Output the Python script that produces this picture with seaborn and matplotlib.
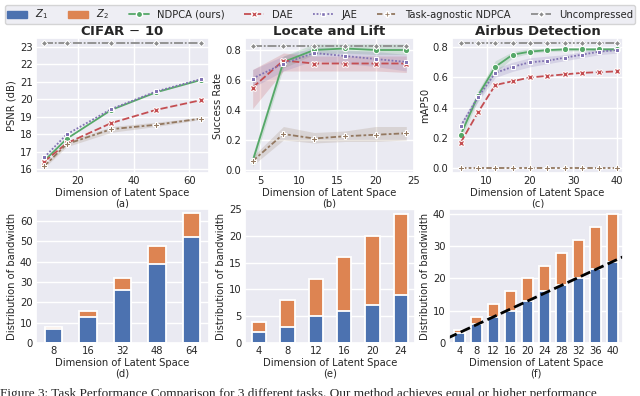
import numpy as np
import pandas as pd
import matplotlib
matplotlib.use("Agg")
import matplotlib.pyplot as plt
import seaborn as sns
from matplotlib.lines import Line2D
from matplotlib.patches import Patch

sns.set_theme(style="darkgrid", palette="deep")
plt.rcParams['font.family'] = ['DejaVu Sans']

metodos = ["NDPCA (ours)", "DAE", "JAE", "Task-agnostic NDPCA", "Uncompressed"]

# CIFAR-10 (PSNR)
cifar_x = [8, 16, 32, 48, 64]
cifar_ndpca = [16.5, 17.75, 19.4, 20.4, 21.1]
cifar_dae = [16.45, 17.5, 18.65, 19.4, 19.95]
cifar_jae = [16.7, 18.0, 19.45, 20.45, 21.15]
cifar_agn = [16.2, 17.45, 18.3, 18.55, 18.9]
cifar_unc = [23.2, 23.2, 23.2, 23.2, 23.2]
cifar_agn_lo = [16.1, 17.3, 18.12, 18.45, 18.85]
cifar_agn_hi = [16.3, 17.6, 18.45, 18.7, 18.97]

# Locate and Lift (success rate)
lift_x = [4, 8, 12, 16, 20, 24]
lift_ndpca = [0.06, 0.72, 0.80, 0.81, 0.80, 0.80]
lift_dae = [0.55, 0.73, 0.71, 0.71, 0.71, 0.71]
lift_jae = [0.61, 0.71, 0.78, 0.76, 0.74, 0.72]
lift_agn = [0.06, 0.24, 0.21, 0.225, 0.235, 0.245]
lift_unc = [0.83, 0.83, 0.83, 0.83, 0.83, 0.83]
lift_ndpca_lo = [0.02, 0.68, 0.77, 0.78, 0.77, 0.77]
lift_ndpca_hi = [0.10, 0.76, 0.84, 0.84, 0.84, 0.84]
lift_dae_lo = [0.41, 0.66, 0.66, 0.66, 0.66, 0.65]
lift_dae_hi = [0.67, 0.78, 0.76, 0.76, 0.76, 0.76]
lift_jae_lo = [0.55, 0.66, 0.73, 0.71, 0.69, 0.66]
lift_jae_hi = [0.67, 0.76, 0.82, 0.80, 0.79, 0.77]
lift_agn_lo = [0.03, 0.20, 0.18, 0.19, 0.19, 0.20]
lift_agn_hi = [0.09, 0.29, 0.25, 0.26, 0.29, 0.29]

# Airbus Detection (mAP50)
air_x = [4, 8, 12, 16, 20, 24, 28, 32, 36, 40]
air_ndpca = [0.22, 0.48, 0.67, 0.75, 0.77, 0.78, 0.785, 0.785, 0.785, 0.785]
air_dae = [0.17, 0.37, 0.55, 0.575, 0.60, 0.61, 0.62, 0.63, 0.635, 0.64]
air_jae = [0.28, 0.47, 0.63, 0.67, 0.70, 0.71, 0.73, 0.75, 0.77, 0.78]
air_agn = [0.0] * 10
air_unc = [0.83] * 10
air_ndpca_lo = [0.19, 0.45, 0.63, 0.73, 0.76, 0.77, 0.775, 0.775, 0.775, 0.775]
air_ndpca_hi = [0.25, 0.51, 0.71, 0.77, 0.79, 0.79, 0.795, 0.795, 0.795, 0.795]
air_jae_lo = [0.26, 0.44, 0.60, 0.64, 0.67, 0.69, 0.71, 0.73, 0.75, 0.76]
air_jae_hi = [0.30, 0.50, 0.66, 0.70, 0.73, 0.74, 0.75, 0.77, 0.79, 0.80]

# distribuicao de banda
bw_d_x = ["8", "16", "32", "48", "64"]
bw_d_z1 = [7, 13, 26, 39, 52]
bw_d_z2 = [1, 3, 6, 9, 12]
bw_e_x = ["4", "8", "12", "16", "20", "24"]
bw_e_z1 = [2, 3, 5, 6, 7, 9]
bw_e_z2 = [2, 5, 7, 10, 13, 15]
bw_f_x = ["4", "8", "12", "16", "20", "24", "28", "32", "36", "40"]
bw_f_z1 = [3, 6, 8, 10, 13, 16, 18, 20, 23, 25]
bw_f_z2 = [1, 2, 4, 6, 7, 8, 10, 12, 13, 15]

pal = sns.color_palette("deep")
cores = {"NDPCA (ours)": pal[2], "DAE": pal[3], "JAE": pal[4],
         "Task-agnostic NDPCA": pal[5], "Uncompressed": pal[7]}
marcadores = {"NDPCA (ours)": "o", "DAE": "X", "JAE": (4, 0, 45),
              "Task-agnostic NDPCA": "P", "Uncompressed": (4, 0, 0)}
tracos = {"NDPCA (ours)": "", "DAE": (4, 1.5), "JAE": (1, 1),
          "Task-agnostic NDPCA": (3, 1.25, 1.5, 1.25), "Uncompressed": (5, 1, 1, 1)}

FS = 7.2


def monta_df(x, series):
    linhas = []
    for nome, ys in zip(metodos, series):
        for xi, yi in zip(x, ys):
            linhas.append({"dim": xi, "val": yi, "metodo": nome})
    return pd.DataFrame(linhas)


fig = plt.figure(figsize=(6.4, 3.96), dpi=100)
W, H = 640, 396
def caixa(l, t, r, b):
    return [l / W, 1 - b / H, (r - l) / W, (b - t) / H]

ax_a = fig.add_axes(caixa(36, 38, 209, 173))
ax_b = fig.add_axes(caixa(245, 38, 414, 173))
ax_c = fig.add_axes(caixa(452, 38, 623, 173))
ax_d = fig.add_axes(caixa(36, 209, 209, 343))
ax_e = fig.add_axes(caixa(245, 209, 415, 343))
ax_f = fig.add_axes(caixa(449, 209, 623, 343))

linhas_cfg = [
    (ax_a, cifar_x, [cifar_ndpca, cifar_dae, cifar_jae, cifar_agn, cifar_unc],
     [("Task-agnostic NDPCA", cifar_agn_lo, cifar_agn_hi)],
     "CIFAR $-$ 10", "PSNR (dB)", "(a)"),
    (ax_b, lift_x, [lift_ndpca, lift_dae, lift_jae, lift_agn, lift_unc],
     [("NDPCA (ours)", lift_ndpca_lo, lift_ndpca_hi), ("DAE", lift_dae_lo, lift_dae_hi),
      ("JAE", lift_jae_lo, lift_jae_hi), ("Task-agnostic NDPCA", lift_agn_lo, lift_agn_hi)],
     "Locate and Lift", "Success Rate", "(b)"),
    (ax_c, air_x, [air_ndpca, air_dae, air_jae, air_agn, air_unc],
     [("NDPCA (ours)", air_ndpca_lo, air_ndpca_hi), ("JAE", air_jae_lo, air_jae_hi)],
     "Airbus Detection", "mAP50", "(c)"),
]

for ax, x, series, bandas, titulo, ylab, letra in linhas_cfg:
    df = monta_df(x, series)
    for nome, lo, hi in bandas:
        ax.fill_between(x, lo, hi, color=cores[nome], alpha=0.2, linewidth=0)
    sns.lineplot(data=df, x="dim", y="val", hue="metodo", style="metodo",
                 palette=cores, markers=marcadores, dashes=tracos,
                 markersize=4.5, linewidth=1.3, ax=ax, legend=False)
    ax.set_title(titulo, fontsize=9.5, fontweight="bold", pad=2)
    ax.set_ylabel(ylab, fontsize=FS, labelpad=2)
    ax.set_xlabel("Dimension of Latent Space\n" + letra, fontsize=FS, labelpad=1, linespacing=1.05)
    ax.tick_params(labelsize=FS, pad=2.5, length=0)

ax_a.set_xlim(5, 67)
ax_a.set_ylim(15.8, 23.5)
ax_a.set_xticks([20, 40, 60])
ax_a.set_yticks(range(16, 24))
ax_b.set_xlim(3, 25)
ax_b.set_ylim(-0.02, 0.88)
ax_b.set_xticks([5, 10, 15, 20, 25])
ax_b.set_yticks([0.0, 0.2, 0.4, 0.6, 0.8])
ax_c.set_xlim(2, 41.5)
ax_c.set_ylim(-0.03, 0.86)
ax_c.set_xticks([10, 20, 30, 40])
ax_c.set_yticks([0.0, 0.2, 0.4, 0.6, 0.8])

barras_cfg = [
    (ax_d, bw_d_x, bw_d_z1, bw_d_z2, 0.5, "(d)", [0, 10, 20, 30, 40, 50, 60], 66),
    (ax_e, bw_e_x, bw_e_z1, bw_e_z2, 0.5, "(e)", [0, 5, 10, 15, 20, 25], 25),
    (ax_f, bw_f_x, bw_f_z1, bw_f_z2, 0.62, "(f)", [0, 10, 20, 30, 40], 41.5),
]
for ax, cats, z1, z2, larg, letra, yt, ytop in barras_cfg:
    dfb = pd.DataFrame({"dim": cats, "z1": z1, "total": np.array(z1) + np.array(z2)})
    sns.barplot(data=dfb, x="dim", y="total", color=pal[1], width=larg, saturation=1,
                edgecolor="white", linewidth=1.3, ax=ax, order=cats)
    sns.barplot(data=dfb, x="dim", y="z1", color=pal[0], width=larg, saturation=1,
                edgecolor="white", linewidth=1.3, ax=ax, order=cats)
    ax.set_ylabel("Distribution of bandwidth", fontsize=FS, labelpad=2)
    ax.set_xlabel("Dimension of Latent Space\n" + letra, fontsize=FS, labelpad=1, linespacing=1.05)
    ax.set_yticks(yt)
    ax.set_ylim(0, ytop)
    ax.tick_params(labelsize=FS, pad=2.5, length=0)

# linha de tendencia em (f)
pos = np.arange(len(bw_f_x))
coef = np.polyfit(pos, bw_f_z1, 1)
xs = np.array([-0.7, len(bw_f_x) - 0.3])
ax_f.plot(xs, np.polyval(coef, xs), color="black", linestyle="--", linewidth=2)
ax_f.set_xlim(-0.6, len(bw_f_x) - 0.4)

# legenda
handles = [Patch(color=pal[0], label="$Z_1$"), Patch(color=pal[1], label="$Z_2$")]
for nome in metodos:
    h = Line2D([], [], color=cores[nome], marker=marcadores[nome], markersize=4.5,
               markeredgecolor="white", linewidth=1.3, label=nome)
    if tracos[nome]:
        h.set_dashes(tracos[nome])
    handles.append(h)
fig.legend(handles=handles, loc="upper center", bbox_to_anchor=(0.5, 1.0), ncol=7,
           fontsize=FS, frameon=True, handlelength=2.0, columnspacing=2.0,
           borderpad=0.25, handletextpad=0.8)

fig.text(0.0, 8 / H, "Figure 3: Task Performance Comparison for 3 different tasks. Our method achieves equal or higher performance",
         fontsize=9.5, family="Liberation Serif", va="top", ha="left")

fig.savefig("out.png", dpi=100)
